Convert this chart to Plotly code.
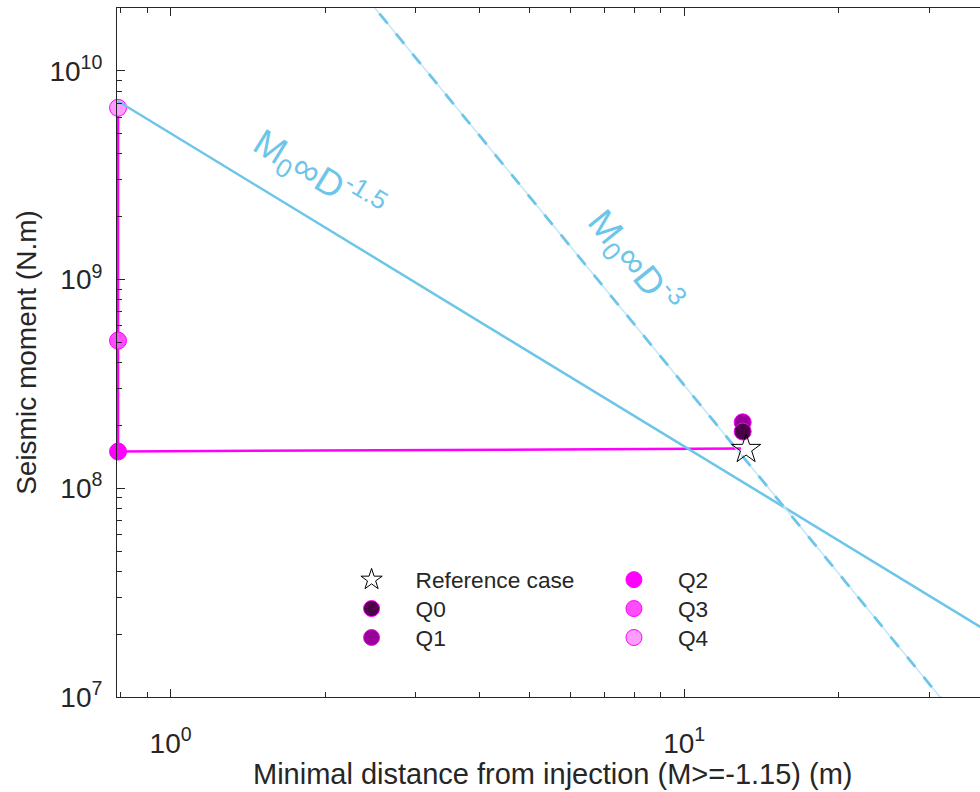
import plotly.graph_objects as go
import math

# ---- data ----
D_left = 0.79           # minimal distance at left edge (m)
ref_D = [13.2]
ref_M = [1.54e8]
q_names = ["Q0", "Q1", "Q2", "Q3", "Q4"]
q_D = [13.0, 13.0, 0.79, 0.79, 0.79]
q_M = [1.87e8, 2.07e8, 1.50e8, 5.1e8, 6.65e9]
q_colors = ["#4b0049", "#990099", "#ff00ff", "#ff4cff", "#ff9cff"]
q_draw_order = [1, 0, 2, 3, 4]   # Q0 is drawn over Q1 in the reference

path_D = [0.79, 0.79, 0.79, 12.9]
path_M = [6.65e9, 5.1e8, 1.50e8, 1.55e8]

# scaling reference lines (end points)
l15_D = [0.79, 37.8]
l15_M = [7.15e9, 2.16e7]
l3_D = [2.2, 35.0]
l3_M = [2.93e10, 7.28e6]

x_ticks = [1, 10]
x_ticktext = ["10<sup>0</sup>", "10<sup>1</sup>"]
y_ticks = [1e7, 1e8, 1e9, 1e10]
y_ticktext = ["10<sup>7</sup>", "10<sup>8</sup>", "10<sup>9</sup>", "10<sup>10</sup>"]

x_minor = [0.8, 0.9] + [k for k in range(2, 10)] + [20, 30]
y_minor = [m * 10 ** e for e in range(7, 11) for m in range(2, 10)]

x_title = "Minimal distance from injection (M>=-1.15) (m)"
y_title = "Seismic moment (N.m)"

BLUE = "#6ec5ea"
LIGHTBLUE = "#c4e8f7"
MAG = "#ff00ff"
AX = "#262626"
FONT = "Liberation Sans, Arial, sans-serif"

# legend slot per entry: (legend id, paper x, paper y)
legend_slots = {
    "Reference case": ("legend", 0.244, 0.170),
    "Q0": ("legend2", 0.244, 0.128),
    "Q1": ("legend3", 0.244, 0.086),
    "Q2": ("legend4", 0.548, 0.170),
    "Q3": ("legend5", 0.548, 0.128),
    "Q4": ("legend6", 0.548, 0.086),
}

fig = go.Figure()

# magenta path
fig.add_trace(go.Scatter(x=path_D, y=path_M, mode="lines",
                         line=dict(color=MAG, width=2.5), showlegend=False,
                         hoverinfo="skip"))

# Q markers
for i in q_draw_order:
    n, d, m, c = q_names[i], q_D[i], q_M[i], q_colors[i]
    fig.add_trace(go.Scatter(
        x=[d], y=[m], mode="markers", name=n,
        marker=dict(symbol="circle", size=17, color=c,
                    line=dict(color=MAG, width=1)),
        cliponaxis=False, legend=legend_slots[n][0]))

# scaling lines
fig.add_trace(go.Scatter(x=l15_D, y=l15_M, mode="lines",
                         line=dict(color=BLUE, width=2.5), showlegend=False,
                         hoverinfo="skip"))
fig.add_trace(go.Scatter(x=l3_D, y=l3_M, mode="lines",
                         line=dict(color=LIGHTBLUE, width=1.6), showlegend=False,
                         hoverinfo="skip"))
fig.add_trace(go.Scatter(x=l3_D, y=l3_M, mode="lines",
                         line=dict(color=BLUE, width=2.8, dash="13px,13px"),
                         showlegend=False, hoverinfo="skip"))

# reference star
fig.add_trace(go.Scatter(
    x=ref_D, y=ref_M, mode="markers", name="Reference case",
    marker=dict(symbol="star-open", size=22, color="black",
                line=dict(color="black", width=1)),
    cliponaxis=False, legend="legend"))

fig.add_annotation(x=math.log10(1.94), y=math.log10(3.15e9),
                   text="M<sub>0</sub>∞D<sup>-1.5</sup>", showarrow=False,
                   textangle=31.5, font=dict(family=FONT, size=37, color=BLUE))
fig.add_annotation(x=math.log10(8.0), y=math.log10(1.22e9),
                   text="M<sub>0</sub>∞D<sup>-3</sup>", showarrow=False,
                   textangle=51, font=dict(family=FONT, size=37, color=BLUE))
# x-axis title placed precisely
fig.add_annotation(x=0.505, y=-0.112, xref="paper", yref="paper",
                   text=x_title, showarrow=False, xanchor="center", yanchor="middle",
                   font=dict(family=FONT, size=29, color=AX))

legend_common = dict(bgcolor="rgba(0,0,0,0)", borderwidth=0,
                     font=dict(family=FONT, size=22.7, color=AX),
                     itemwidth=78, xanchor="left", yanchor="middle",
                     tracegroupgap=0)
legends = {}
for name, (lid, lx, ly) in legend_slots.items():
    legends[lid] = dict(x=lx, y=ly, **legend_common)

fig.update_layout(
    width=980, height=792,
    margin=dict(l=117, r=0, t=8, b=95, autoexpand=False),
    plot_bgcolor="white", paper_bgcolor="white",
    font=dict(family=FONT, color=AX),
    showlegend=True,
    **legends,
    xaxis=dict(type="log", range=[math.log10(D_left) - 0.002, 1.576],
               automargin=False,
               tickmode="array", tickvals=x_ticks, ticktext=x_ticktext,
               ticks="inside", ticklen=8, tickcolor=AX, tickwidth=1,
               ticklabelstandoff=21,
               showline=True, linecolor=AX, linewidth=1, mirror="ticks",
               showgrid=False, zeroline=False,
               tickfont=dict(family=FONT, size=28, color=AX),
               minor=dict(tickmode="array", tickvals=x_minor, ticks="inside",
                          ticklen=5, tickcolor=AX, showgrid=False)),
    yaxis=dict(type="log", range=[7, math.log10(2e10)],
               automargin=False,
               tickmode="array", tickvals=y_ticks, ticktext=y_ticktext,
               ticks="inside", ticklen=8, tickcolor=AX, tickwidth=1,
               ticklabelstandoff=8,
               showline=True, linecolor=AX, linewidth=1, mirror=False,
               showgrid=False, zeroline=False,
               tickfont=dict(family=FONT, size=28, color=AX),
               minor=dict(tickmode="array", tickvals=y_minor, ticks="inside",
                          ticklen=5, tickcolor=AX, showgrid=False),
               title=dict(text=y_title,
                          font=dict(family=FONT, size=28, color=AX), standoff=4)),
)

# remove the default page margin so the figure fills the 980x792 window
fig.write_html("out.html",
               config={"displayModeBar": False},
               post_script="document.body.style.margin='0';"
                           "document.body.style.overflow='hidden';")
